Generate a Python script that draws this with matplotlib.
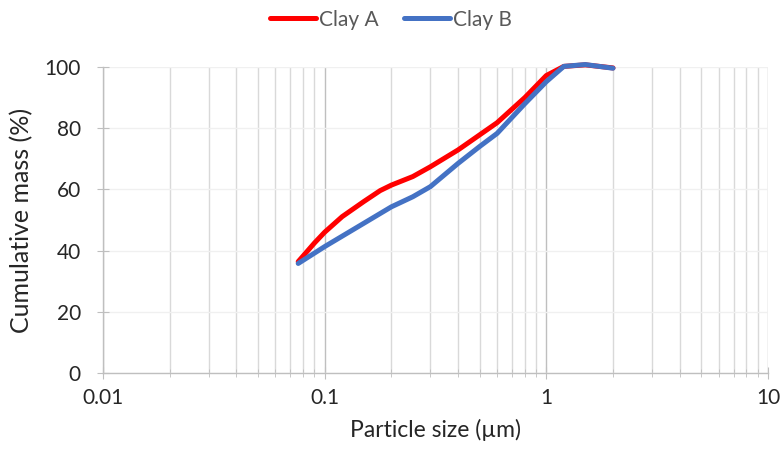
import numpy as np
import matplotlib
matplotlib.use('Agg')
from matplotlib import pyplot as plt
from matplotlib.ticker import LogLocator, FixedLocator, NullFormatter

# particle size (um) and cumulative mass (%)
size_a = [0.076, 0.09, 0.1, 0.12, 0.15, 0.178, 0.2, 0.25, 0.3, 0.4, 0.5, 0.6, 0.7, 0.8, 1.0, 1.2, 1.5, 2.0]
mass_a = [36.4, 42.5, 46.0, 51.1, 56.0, 59.6, 61.4, 64.2, 67.4, 72.9, 77.8, 81.8, 86.2, 90.0, 97.2, 100.2, 100.7, 99.7]

size_b = [0.076, 0.1, 0.15, 0.2, 0.25, 0.3, 0.4, 0.5, 0.6, 0.7, 0.8, 1.0, 1.2, 1.5, 2.0]
mass_b = [35.8, 41.3, 48.9, 54.3, 57.6, 60.9, 68.5, 74.0, 78.3, 83.5, 88.0, 95.2, 100.2, 100.8, 99.6]

xticks = [0.01, 0.1, 1, 10]
xticklabels = ['0.01', '0.1', '1', '10']
yticks = [0, 20, 40, 60, 80, 100]

plt.rcParams['font.family'] = ['Lato', 'DejaVu Sans']

fig = plt.figure(figsize=(7.82, 4.53), dpi=100)
ax = fig.add_axes([0.1317, 0.1766, 0.8503, 0.6755])

ax.plot(size_a, mass_a, color='#FF0000', lw=3.6, label='Clay A',
        solid_capstyle='round', solid_joinstyle='round', clip_on=False, zorder=3)
ax.plot(size_b, mass_b, color='#4472C4', lw=3.6, label='Clay B',
        solid_capstyle='round', solid_joinstyle='round', clip_on=False, zorder=4)

ax.set_xscale('log')
ax.set_xlim(0.01, 10)
ax.set_ylim(0, 100)
ax.xaxis.set_major_locator(FixedLocator(xticks))
ax.set_xticklabels(xticklabels)
ax.xaxis.set_minor_locator(LogLocator(base=10, subs=np.arange(2, 10)))
ax.xaxis.set_minor_formatter(NullFormatter())
ax.set_yticks(yticks)

ax.grid(True, which='major', axis='x', color='#BFBFBF', lw=1.0)
ax.grid(True, which='minor', axis='x', color='#D9D9D9', lw=1.0)
ax.grid(True, which='major', axis='y', color='#F0F0F0', lw=1.0)
ax.set_axisbelow(True)

for s in ['top', 'right']:
    ax.spines[s].set_visible(False)
for s in ['left', 'bottom']:
    ax.spines[s].set_color('#BFBFBF')
    ax.spines[s].set_linewidth(1.0)

ax.tick_params(axis='both', which='major', direction='inout', length=8, color='#BFBFBF',
               labelsize=15, labelcolor='#262626', pad=7)
ax.tick_params(axis='y', which='major', pad=12)
ax.tick_params(axis='x', which='minor', direction='inout', length=6, color='#BFBFBF')

ax.set_xlabel('Particle size (µm)', fontsize=16.5, color='#262626', labelpad=8)
ax.set_ylabel('Cumulative mass (%)', fontsize=18, color='#262626', labelpad=8)

leg = fig.legend(loc='upper center', bbox_to_anchor=(0.5, 1.02), ncol=2, frameon=False,
                 fontsize=15, handlelength=2.2, handletextpad=0.15, columnspacing=1.25)
for t in leg.get_texts():
    t.set_color('#595959')

fig.savefig('out.png', dpi=100)
